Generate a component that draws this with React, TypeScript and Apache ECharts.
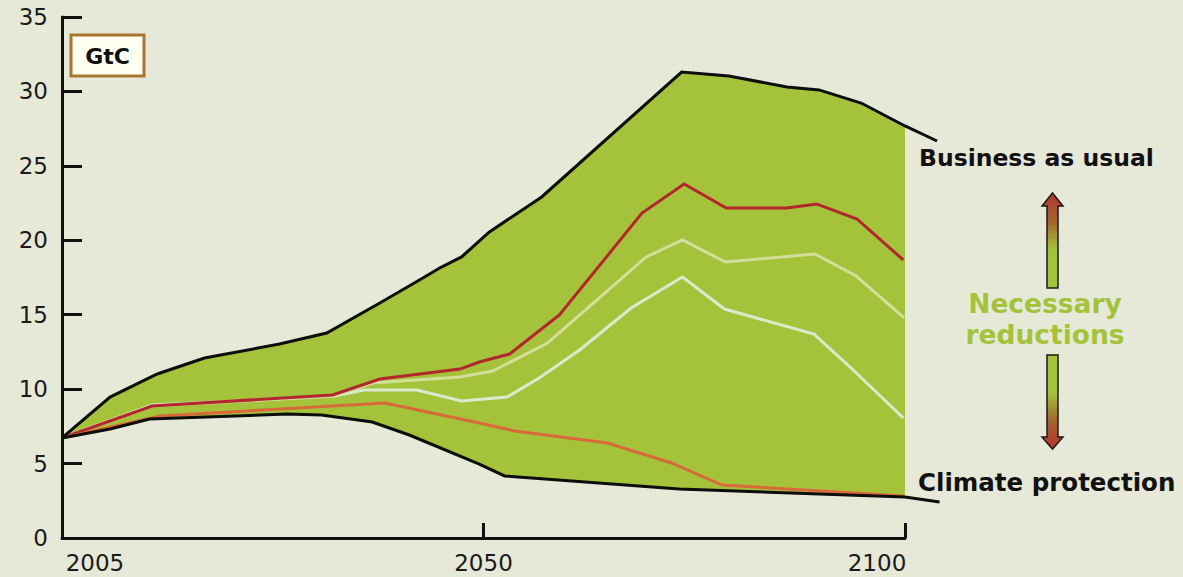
import React, { useEffect, useRef } from "react";
import * as echarts from "echarts";

// ---- data (GtC) ----
const bauYears = [2000, 2005.7, 2011.3, 2016.9, 2025.8, 2031.4, 2037.7, 2042.4, 2044.8, 2047.4, 2050.7, 2056.9, 2073.5, 2079.1, 2086.0, 2089.8, 2094.8, 2100, 2103.8];
const bauValues = [6.72, 9.47, 11.02, 12.09, 13.03, 13.77, 15.79, 17.33, 18.14, 18.88, 20.56, 22.91, 31.3, 31.04, 30.3, 30.1, 29.22, 27.68, 26.67];

const cpYears = [2000, 2005.7, 2010.4, 2026.7, 2030.8, 2036.8, 2041.2, 2049.5, 2052.5, 2073.2, 2100, 2104.1];
const cpValues = [6.72, 7.32, 7.99, 8.33, 8.26, 7.79, 6.92, 4.97, 4.17, 3.29, 2.75, 2.42];

const redYears = [2000, 2010.7, 2032.1, 2037.7, 2047.2, 2049.5, 2053.1, 2059.0, 2068.8, 2073.8, 2078.8, 2086.0, 2089.5, 2094.3, 2099.8];
const redValues = [6.72, 8.87, 9.61, 10.68, 11.35, 11.82, 12.36, 14.98, 21.83, 23.78, 22.17, 22.17, 22.44, 21.43, 18.68];

const paleYears = [2000, 2010.7, 2032.3, 2036.8, 2047.2, 2051.1, 2057.6, 2069.3, 2073.6, 2078.7, 2089.3, 2094.2, 2099.9];
const paleValues = [6.72, 8.87, 9.54, 10.41, 10.82, 11.22, 13.1, 18.88, 20.02, 18.54, 19.08, 17.6, 14.78];

const whiteYears = [2000, 2010.7, 2032.3, 2035.9, 2042.1, 2047.4, 2052.8, 2056.6, 2061.4, 2067.5, 2073.6, 2078.6, 2089.2, 2093.6, 2099.8];
const whiteValues = [6.72, 8.93, 9.54, 9.94, 9.94, 9.2, 9.47, 10.75, 12.63, 15.45, 17.53, 15.38, 13.7, 11.42, 8.06];

const orangeYears = [2000, 2011.6, 2038.3, 2049.5, 2053.7, 2064.7, 2072.3, 2078.3, 2099.9];
const orangeValues = [6.72, 8.2, 9.07, 7.73, 7.19, 6.38, 5.04, 3.56, 2.82];

const yTicks = [0, 5, 10, 15, 20, 25, 30, 35];
const xLabels: Record<number, string> = { 2000: "2005", 2050: "2050", 2100: "2100" };

const BG = "#e7e9d8";
const GREEN = "#a4c33b";
const FONT = "DejaVu Sans";

const pairs = (xs: number[], ys: number[]) => xs.map((x, i) => [x, ys[i]]);

export default function App() {
  const ref = useRef<HTMLDivElement>(null);
  useEffect(() => {
    const chart = echarts.init(ref.current!, null, { renderer: "svg" });
    const lineSeries = (data: number[][], color: string, z: number, width = 3) => ({
      type: "line",
      data,
      symbol: "none",
      clip: false,
      silent: true,
      z,
      lineStyle: { color, width, join: "miter" },
    });
    const arrowGrad = (up: boolean) => ({
      type: "linear",
      x: 0,
      y: 0,
      x2: 0,
      y2: 1,
      colorStops: up
        ? [
            { offset: 0, color: "#b5352c" },
            { offset: 0.3, color: "#a2642f" },
            { offset: 0.6, color: GREEN },
            { offset: 1, color: GREEN },
          ]
        : [
            { offset: 0, color: GREEN },
            { offset: 0.4, color: GREEN },
            { offset: 0.7, color: "#a2642f" },
            { offset: 1, color: "#b5352c" },
          ],
    });
    const cx = 1052.5;
    chart.setOption({
      animation: false,
      backgroundColor: BG,
      grid: { left: 62, right: 278, top: 17, bottom: 39 },
      xAxis: {
        type: "value",
        min: 2000,
        max: 2100,
        interval: 50,
        z: 10,
        axisLine: { lineStyle: { color: "#111", width: 3 } },
        axisTick: { inside: true, length: 15, lineStyle: { color: "#111", width: 3 } },
        splitLine: { show: false },
        axisLabel: {
          margin: 13,
          color: "#1a1a1a",
          fontFamily: FONT,
          fontSize: 23,
          formatter: (v: number) => {
            const t = xLabels[v] ?? String(v);
            if (v === 2000) return "{a|" + t + "}";
            if (v === 2100) return "{c|" + t + "}";
            return "{b|" + t + "}";
          },
          rich: {
            a: { fontFamily: FONT, fontSize: 23, color: "#1a1a1a", padding: [0, 0, 0, 66] },
            b: { fontFamily: FONT, fontSize: 23, color: "#1a1a1a" },
            c: { fontFamily: FONT, fontSize: 23, color: "#1a1a1a", padding: [0, 56, 0, 0] },
          },
        },
      },
      yAxis: {
        type: "value",
        min: yTicks[0],
        max: yTicks[yTicks.length - 1],
        interval: 5,
        z: 10,
        axisLine: { show: true, lineStyle: { color: "#111", width: 3 } },
        axisTick: { show: true, inside: true, length: 20, lineStyle: { color: "#111", width: 3 } },
        splitLine: { show: false },
        axisLabel: { margin: 14, color: "#1a1a1a", fontFamily: FONT, fontSize: 23 },
      },
      series: [
        {
          type: "custom",
          silent: true,
          z: 1,
          clip: false,
          data: [[2000, 0]],
          renderItem: (_p: any, api: any) => {
            const top = pairs(bauYears, bauValues)
              .filter((p) => p[0] <= 2100)
              .map((p) => api.coord(p));
            const bot = pairs(cpYears, cpValues)
              .filter((p) => p[0] <= 2100)
              .map((p) => api.coord(p))
              .reverse();
            return { type: "polygon", shape: { points: top.concat(bot) }, style: { fill: GREEN } };
          },
        },
        lineSeries(pairs(whiteYears, whiteValues), "#d8ebcf", 3),
        lineSeries(pairs(paleYears, paleValues), "#d3de98", 3),
        lineSeries(pairs(redYears, redValues), "#b3262d", 4),
        lineSeries(pairs(orangeYears, orangeValues), "#d8693a", 5),
        {
          type: "custom",
          silent: true,
          z: 6,
          clip: false,
          data: [[2000, 0]],
          renderItem: (_p: any, api: any) => {
            const mk = (xs: number[], ys: number[]) => ({
              type: "polyline",
              shape: { points: pairs(xs, ys).map((p) => api.coord(p)) },
              style: { stroke: "#0d0d0d", lineWidth: 3, fill: "none", lineJoin: "miter" },
            });
            return { type: "group", children: [mk(bauYears, bauValues), mk(cpYears, cpValues)] };
          },
        },
      ],
      graphic: [
        {
          type: "rect",
          shape: { x: 71, y: 35, width: 73, height: 41 },
          style: { fill: "#fffff2", stroke: "#a8772e", lineWidth: 3 },
          z: 20,
        },
        {
          type: "text",
          x: 107.5,
          y: 56,
          style: { text: "GtC", font: "bold 22px " + FONT, fill: "#111", align: "center", verticalAlign: "middle" },
          z: 21,
        },
        {
          type: "text",
          x: 919,
          y: 158,
          style: { text: "Business as usual", font: "bold 23.5px " + FONT, fill: "#111", align: "left", verticalAlign: "middle" },
        },
        {
          type: "text",
          x: 918,
          y: 482,
          style: { text: "Climate protection", font: "bold 24.5px " + FONT, fill: "#111", align: "left", verticalAlign: "middle" },
        },
        {
          type: "text",
          x: 1045,
          y: 303,
          style: { text: "Necessary", font: "bold 26.5px " + FONT, fill: GREEN, align: "center", verticalAlign: "middle" },
        },
        {
          type: "text",
          x: 1045,
          y: 334,
          style: { text: "reductions", font: "bold 26.5px " + FONT, fill: GREEN, align: "center", verticalAlign: "middle" },
        },
        {
          type: "polygon",
          shape: {
            points: [
              [cx, 193], [cx + 10.5, 206], [cx + 5.5, 206], [cx + 5.5, 288],
              [cx - 5.5, 288], [cx - 5.5, 206], [cx - 10.5, 206],
            ],
          },
          style: { fill: arrowGrad(true), stroke: "#1a1a1a", lineWidth: 1.5 },
        },
        {
          type: "polygon",
          shape: {
            points: [
              [cx - 5.5, 355], [cx + 5.5, 355], [cx + 5.5, 437], [cx + 10.5, 437],
              [cx, 449], [cx - 10.5, 437], [cx - 5.5, 437],
            ],
          },
          style: { fill: arrowGrad(false), stroke: "#1a1a1a", lineWidth: 1.5 },
        },
      ],
    });
    return () => chart.dispose();
  }, []);
  return <div ref={ref} style={{ position: "fixed", left: 0, top: 0, width: 1183, height: 577 }} />;
}
